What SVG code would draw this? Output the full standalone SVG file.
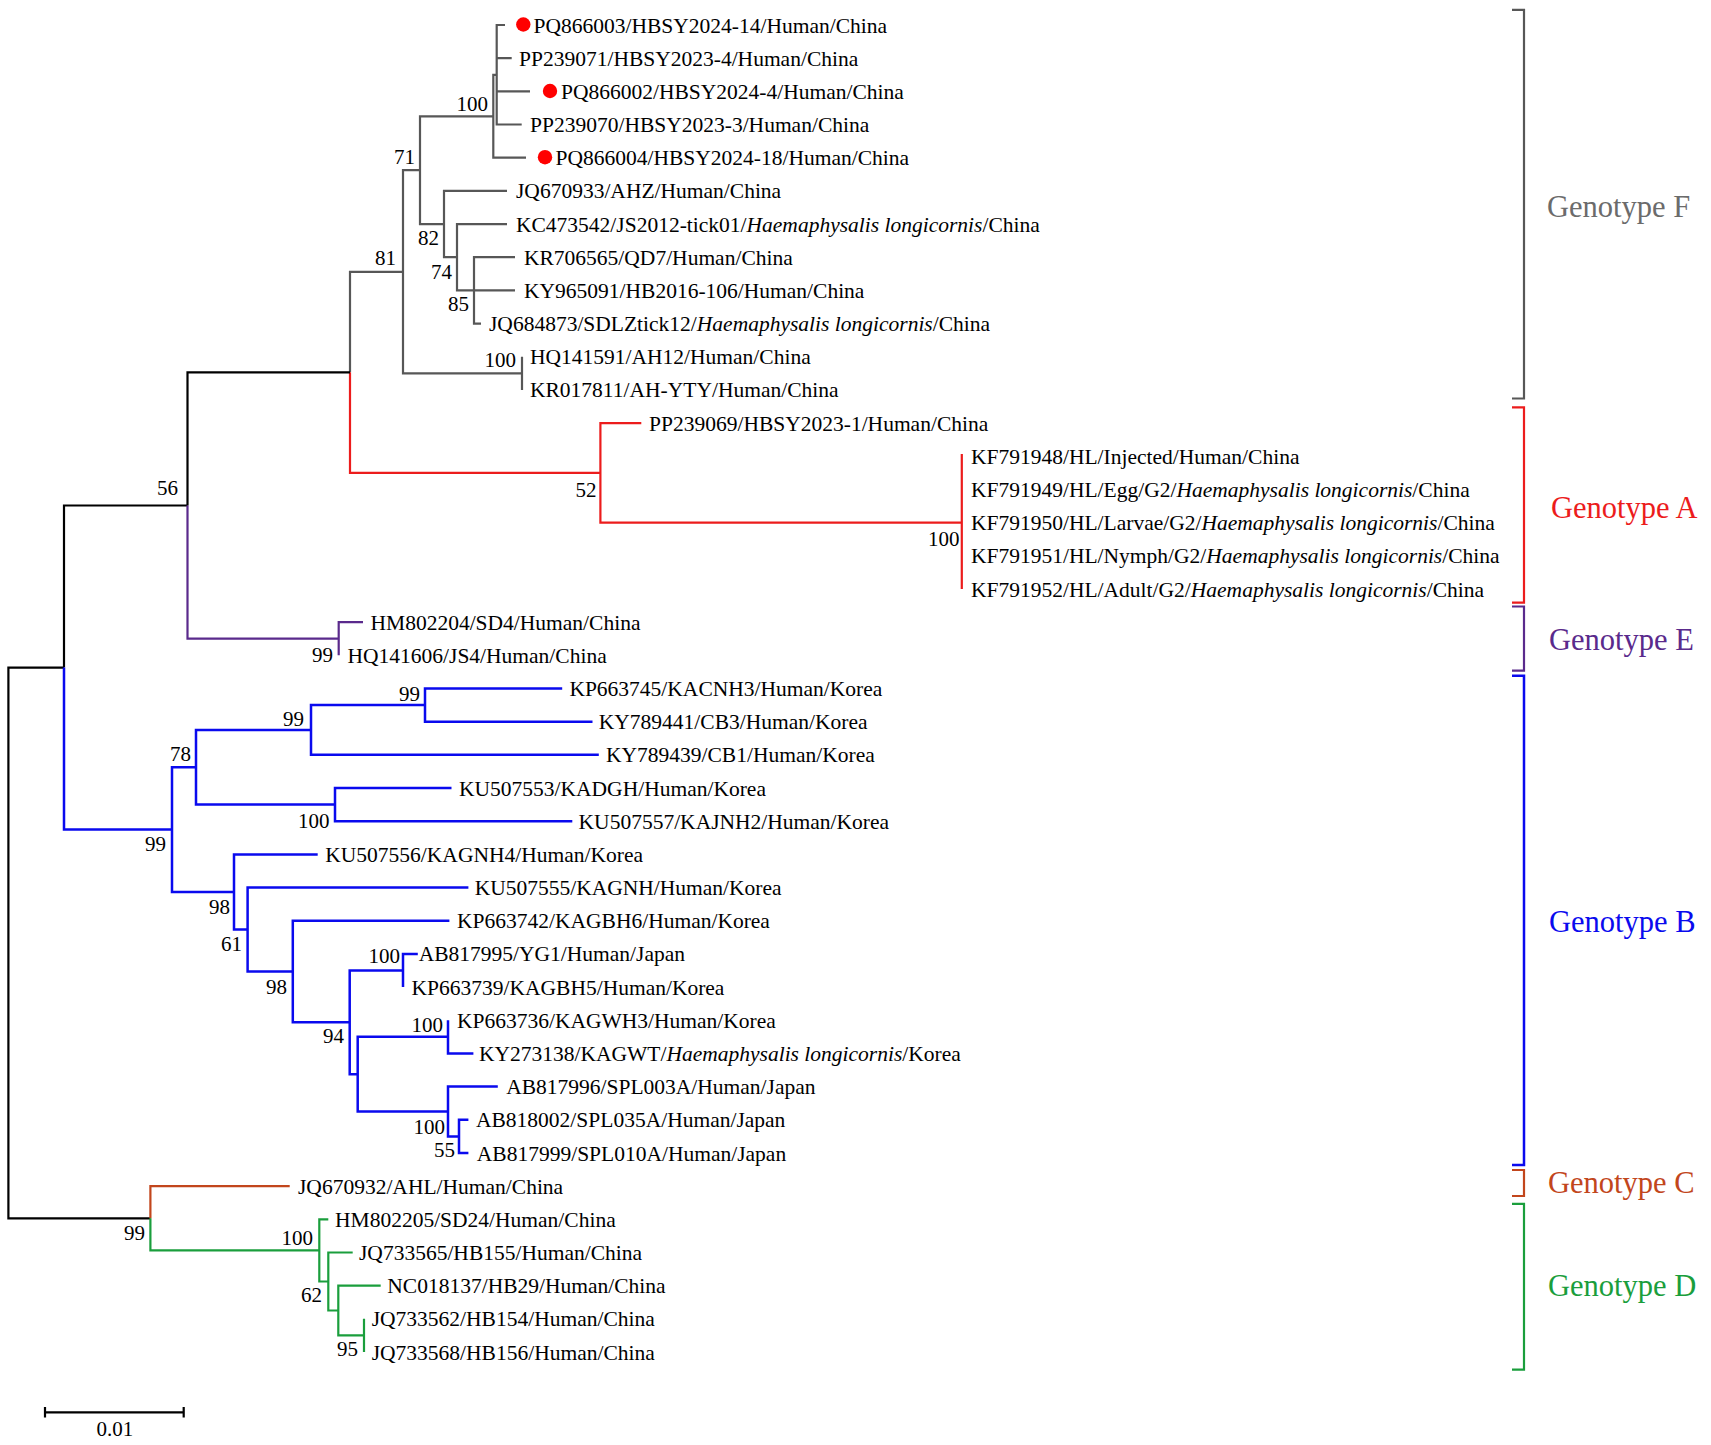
<svg xmlns="http://www.w3.org/2000/svg" width="1711" height="1445" viewBox="0 0 1711 1445">
<style>
text{font-family:"Liberation Serif","Times New Roman",serif;fill:#000}
.lf{font-size:21.5px}
.bs{font-size:21px;text-anchor:end}
.gt{font-size:30.5px}
.it{font-style:italic}
.br{fill:none;stroke-width:2.2;stroke-linejoin:miter}
.g{stroke:#575757}
.r{stroke:#ec1c1c}
.k{stroke:#000}
.p{stroke:#5a2a8c}
.b{stroke:#0a0aee;stroke-width:2.5}
.o{stroke:#c2461c}
.d{stroke:#1a9e3c}
.dot{fill:#ff0000}
</style>
<rect width="1711" height="1445" fill="#fff"/>
<g id="connectors">
  <path class="br g" d="M505 25 H496.7 V124.5 H521.7 M496.7 58.2 H511.7 M497.5 91.4 H530 M496.7 74.8 H493.3 V157.7 H526 M493.3 116.3 H420 V224.05 H444 M507 190.9 H444 V257.2 H457 M507 224.05 H457 V290.4 H474 M457 290.4 H515 M515 257.2 H474 V323.6 H481 M420 170.2 H403 V373.3 H522 M522 356.75 V389.9 M403 271.8 H350 V372.3"/>
  <path class="br r" d="M350 372.3 V472.9 H600.4 M641.3 423.1 H600.4 V522.6 H961.8 M961.8 454 V589"/>
  <path class="br k" d="M350 372.3 H187.5 V505.5 M187.5 505.5 H64 V667.6 M64 667.6 H8.4 V1218.3 H150.4"/>
  <path class="br p" d="M187.5 505.5 V638.7 H338.7 M363 622.15 H338.7 V655.3"/>
  <path class="br b" d="M64 667.6 V829.6 H172 M196 767.3 H172 V892 H234 M311 730 H196 V804.6 H335 M425 705.1 H311 V754.85 H598.8 M562.2 688.5 H425 V721.7 H592.5 M451.5 788 H335 V821.2 H572.3 M317.7 854.4 H234 V929.5 H247.6 M468.4 887.55 H247.6 V971.5 H292.8 M449.4 920.7 H292.8 V1022.3 H349.7 M403 970.5 H349.7 V1074.2 H357.7 M417.8 953.9 H403 V987.1 M448 1036.8 H357.7 V1111.5 H448 M448 1020.25 V1053.4 H473.4 M497.8 1086.6 H448 V1136.4 H459 M468.4 1119.8 H459 V1153 H468.4"/>
  <path class="br o" d="M150.4 1218.3 V1186.1 H289.7"/>
  <path class="br d" d="M150.4 1218.3 V1250.4 H319.3 M328.3 1219.3 H319.3 V1281.5 H328.3 M352.7 1252.5 H328.3 V1310.5 H338.3 M380.7 1285.65 H338.3 V1335.4 H364 M364 1318.8 V1352"/>
</g>
<g id="markers">
  <circle class="dot" cx="523.3" cy="24.5" r="7.2"/>
  <circle class="dot" cx="550" cy="91" r="7.2"/>
  <circle class="dot" cx="545" cy="157.2" r="7.2"/>
</g>
<g id="bootstrap">
  <text class="bs" x="488" y="110.5">100</text>
  <text class="bs" x="415" y="164">71</text>
  <text class="bs" x="439" y="245">82</text>
  <text class="bs" x="452" y="279">74</text>
  <text class="bs" x="469" y="311">85</text>
  <text class="bs" x="396" y="265">81</text>
  <text class="bs" x="516" y="367">100</text>
  <text class="bs" x="596.5" y="497">52</text>
  <text class="bs" x="959.5" y="545.5">100</text>
  <text class="bs" x="178" y="495">56</text>
  <text class="bs" x="333" y="662">99</text>
  <text class="bs" x="420" y="700.5">99</text>
  <text class="bs" x="304" y="726">99</text>
  <text class="bs" x="191" y="761">78</text>
  <text class="bs" x="329.5" y="828">100</text>
  <text class="bs" x="166" y="851">99</text>
  <text class="bs" x="230" y="914">98</text>
  <text class="bs" x="242" y="951">61</text>
  <text class="bs" x="287" y="994">98</text>
  <text class="bs" x="344" y="1043">94</text>
  <text class="bs" x="400" y="963">100</text>
  <text class="bs" x="443" y="1032">100</text>
  <text class="bs" x="445" y="1134">100</text>
  <text class="bs" x="455" y="1157">55</text>
  <text class="bs" x="145" y="1239.5">99</text>
  <text class="bs" x="313" y="1245">100</text>
  <text class="bs" x="322" y="1302">62</text>
  <text class="bs" x="358" y="1356">95</text>
</g>
<g id="leaf-PQ866003"><text class="lf" x="533.5" y="32.5">PQ866003/HBSY2024-14/Human/China</text></g>
<g id="leaf-PP239071"><text class="lf" x="519" y="65.7">PP239071/HBSY2023-4/Human/China</text></g>
<g id="leaf-PQ866002"><text class="lf" x="561" y="98.9">PQ866002/HBSY2024-4/Human/China</text></g>
<g id="leaf-PP239070"><text class="lf" x="530" y="132">PP239070/HBSY2023-3/Human/China</text></g>
<g id="leaf-PQ866004"><text class="lf" x="555.5" y="165.2">PQ866004/HBSY2024-18/Human/China</text></g>
<g id="leaf-JQ670933"><text class="lf" x="516" y="198.4">JQ670933/AHZ/Human/China</text></g>
<g id="leaf-KC473542"><text class="lf" x="516" y="231.5">KC473542/JS2012-tick01/<tspan class="it">Haemaphysalis longicornis</tspan>/China</text></g>
<g id="leaf-KR706565"><text class="lf" x="524" y="264.7">KR706565/QD7/Human/China</text></g>
<g id="leaf-KY965091"><text class="lf" x="524" y="297.9">KY965091/HB2016-106/Human/China</text></g>
<g id="leaf-JQ684873"><text class="lf" x="489" y="331.1">JQ684873/SDLZtick12/<tspan class="it">Haemaphysalis longicornis</tspan>/China</text></g>
<g id="leaf-HQ141591"><text class="lf" x="530" y="364.2">HQ141591/AH12/Human/China</text></g>
<g id="leaf-KR017811"><text class="lf" x="530" y="397.4">KR017811/AH-YTY/Human/China</text></g>
<g id="leaf-PP239069"><text class="lf" x="649" y="430.6">PP239069/HBSY2023-1/Human/China</text></g>
<g id="leaf-KF791948"><text class="lf" x="971" y="463.8">KF791948/HL/Injected/Human/China</text></g>
<g id="leaf-KF791949"><text class="lf" x="971" y="497">KF791949/HL/Egg/G2/<tspan class="it">Haemaphysalis longicornis</tspan>/China</text></g>
<g id="leaf-KF791950"><text class="lf" x="971" y="530.1">KF791950/HL/Larvae/G2/<tspan class="it">Haemaphysalis longicornis</tspan>/China</text></g>
<g id="leaf-KF791951"><text class="lf" x="971" y="563.3">KF791951/HL/Nymph/G2/<tspan class="it">Haemaphysalis longicornis</tspan>/China</text></g>
<g id="leaf-KF791952"><text class="lf" x="971" y="596.5">KF791952/HL/Adult/G2/<tspan class="it">Haemaphysalis longicornis</tspan>/China</text></g>
<g id="leaf-HM802204"><text class="lf" x="370.5" y="629.7">HM802204/SD4/Human/China</text></g>
<g id="leaf-HQ141606"><text class="lf" x="347.5" y="662.8">HQ141606/JS4/Human/China</text></g>
<g id="leaf-KP663745"><text class="lf" x="569.4" y="696">KP663745/KACNH3/Human/Korea</text></g>
<g id="leaf-KY789441"><text class="lf" x="598.8" y="729.2">KY789441/CB3/Human/Korea</text></g>
<g id="leaf-KY789439"><text class="lf" x="606" y="762.4">KY789439/CB1/Human/Korea</text></g>
<g id="leaf-KU507553"><text class="lf" x="459" y="795.5">KU507553/KADGH/Human/Korea</text></g>
<g id="leaf-KU507557"><text class="lf" x="578.6" y="828.7">KU507557/KAJNH2/Human/Korea</text></g>
<g id="leaf-KU507556"><text class="lf" x="325.3" y="861.9">KU507556/KAGNH4/Human/Korea</text></g>
<g id="leaf-KU507555"><text class="lf" x="474.7" y="895">KU507555/KAGNH/Human/Korea</text></g>
<g id="leaf-KP663742"><text class="lf" x="457" y="928.2">KP663742/KAGBH6/Human/Korea</text></g>
<g id="leaf-AB817995"><text class="lf" x="418.7" y="961.4">AB817995/YG1/Human/Japan</text></g>
<g id="leaf-KP663739"><text class="lf" x="411.5" y="994.6">KP663739/KAGBH5/Human/Korea</text></g>
<g id="leaf-KP663736"><text class="lf" x="457" y="1027.8">KP663736/KAGWH3/Human/Korea</text></g>
<g id="leaf-KY273138"><text class="lf" x="478.9" y="1060.9">KY273138/KAGWT/<tspan class="it">Haemaphysalis longicornis</tspan>/Korea</text></g>
<g id="leaf-AB817996"><text class="lf" x="506.2" y="1094.1">AB817996/SPL003A/Human/Japan</text></g>
<g id="leaf-AB818002"><text class="lf" x="476" y="1127.3">AB818002/SPL035A/Human/Japan</text></g>
<g id="leaf-AB817999"><text class="lf" x="476.8" y="1160.5">AB817999/SPL010A/Human/Japan</text></g>
<g id="leaf-JQ670932"><text class="lf" x="298" y="1193.6">JQ670932/AHL/Human/China</text></g>
<g id="leaf-HM802205"><text class="lf" x="335" y="1226.8">HM802205/SD24/Human/China</text></g>
<g id="leaf-JQ733565"><text class="lf" x="359" y="1260">JQ733565/HB155/Human/China</text></g>
<g id="leaf-NC018137"><text class="lf" x="387.3" y="1293.2">NC018137/HB29/Human/China</text></g>
<g id="leaf-JQ733562"><text class="lf" x="371.7" y="1326.3">JQ733562/HB154/Human/China</text></g>
<g id="leaf-JQ733568"><text class="lf" x="371.7" y="1359.5">JQ733568/HB156/Human/China</text></g>
<g id="genotype-F"><path class="br g" d="M1512 9.8 H1524 V398.5 H1512"/><text class="gt" x="1547" y="217" fill="#6b6b6b" style="fill:#6b6b6b">Genotype F</text></g>
<g id="genotype-A"><path class="br r" d="M1512 407.3 H1524 V602.7 H1512"/><text class="gt" x="1551" y="517.5" style="fill:#ec1c1c">Genotype A</text></g>
<g id="genotype-E"><path class="br p" d="M1512 606.5 H1524 V670.6 H1512"/><text class="gt" x="1549" y="649.5" style="fill:#5a2a8c">Genotype E</text></g>
<g id="genotype-B"><path class="br b" d="M1512 675.7 H1524 V1165 H1512"/><text class="gt" x="1549" y="931.6" style="fill:#0a0aee">Genotype B</text></g>
<g id="genotype-C"><path class="br o" d="M1512 1170 H1524 V1196 H1512"/><text class="gt" x="1548" y="1193" style="fill:#c2461c">Genotype C</text></g>
<g id="genotype-D"><path class="br d" d="M1512 1203.8 H1524 V1369.6 H1512"/><text class="gt" x="1548" y="1296" style="fill:#1a9e3c">Genotype D</text></g>
<g id="scale-bar">
  <path class="br k" d="M45 1412.3 H183.7 M45 1407 V1417.5 M183.7 1407 V1417.5"/>
  <text x="114.8" y="1436" style="font-size:21px;text-anchor:middle">0.01</text>
</g>
</svg>
